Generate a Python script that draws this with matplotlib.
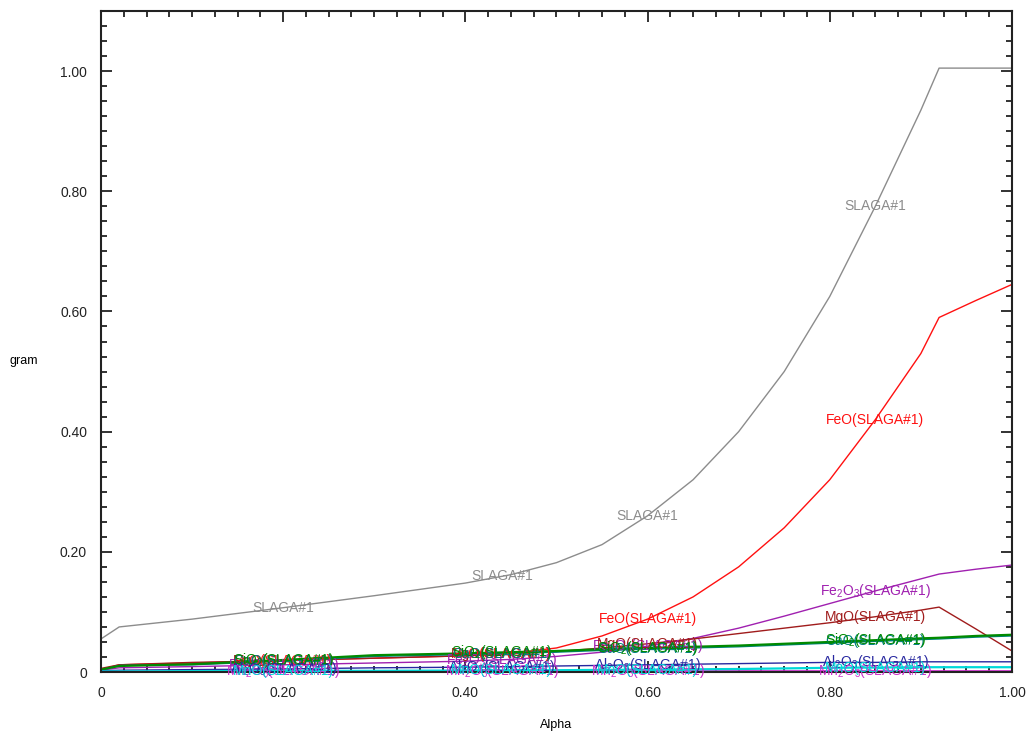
import numpy as np
import matplotlib
matplotlib.use("Agg")
import matplotlib.pyplot as plt
from matplotlib.ticker import MultipleLocator, FuncFormatter

plt.rcParams["font.family"] = ["Liberation Sans", "DejaVu Sans"]
plt.rcParams["mathtext.fontset"] = "custom"
plt.rcParams["mathtext.rm"] = "Liberation Sans"
plt.rcParams["mathtext.it"] = "Liberation Sans:italic"

# Alpha grid shared by all slag components
alpha = [0.0, 0.02, 0.10, 0.20, 0.30, 0.40, 0.45, 0.50, 0.55, 0.60,
         0.65, 0.70, 0.75, 0.80, 0.85, 0.90, 0.92, 0.96, 1.00]

slag_total = [0.055, 0.075, 0.088, 0.107, 0.127, 0.148, 0.162, 0.182, 0.212, 0.260,
              0.320, 0.400, 0.500, 0.625, 0.775, 0.935, 1.005, 1.005, 1.005]
feo = [0.004, 0.012, 0.015, 0.019, 0.023, 0.027, 0.031, 0.040, 0.060, 0.088,
       0.125, 0.175, 0.240, 0.320, 0.420, 0.530, 0.590, 0.618, 0.645]
fe2o3 = [0.003, 0.007, 0.009, 0.012, 0.015, 0.018, 0.021, 0.026, 0.033, 0.043,
         0.056, 0.073, 0.093, 0.114, 0.135, 0.155, 0.163, 0.171, 0.178]
mgo = [0.006, 0.012, 0.016, 0.019, 0.023, 0.027, 0.030, 0.034, 0.040, 0.047,
       0.055, 0.064, 0.073, 0.082, 0.092, 0.103, 0.108, 0.072, 0.035]
sio2 = [0.004, 0.010, 0.013, 0.020, 0.028, 0.031, 0.033, 0.035, 0.038, 0.040,
        0.042, 0.044, 0.047, 0.050, 0.053, 0.056, 0.057, 0.060, 0.062]
cao = [0.003, 0.011, 0.012, 0.018, 0.026, 0.029, 0.031, 0.033, 0.036, 0.038,
       0.040, 0.042, 0.045, 0.048, 0.051, 0.054, 0.055, 0.058, 0.060]
al2o3 = [0.002, 0.003, 0.004, 0.005, 0.007, 0.008, 0.009, 0.010, 0.011, 0.012,
         0.013, 0.014, 0.015, 0.016, 0.016, 0.017, 0.017, 0.017, 0.017]
mno = [0.001, 0.001, 0.0015, 0.002, 0.002, 0.0025, 0.003, 0.003, 0.0035, 0.004,
       0.0045, 0.005, 0.006, 0.007, 0.0075, 0.008, 0.008, 0.008, 0.008]
mn2o3 = [0.0005, 0.0008, 0.001, 0.001, 0.0012, 0.0013, 0.0014, 0.0015, 0.0016, 0.0018,
         0.002, 0.002, 0.002, 0.002, 0.002, 0.002, 0.002, 0.002, 0.002]

series = [
    ("SLAGA#1", slag_total, "#8c8c8c", 1.0),
    ("FeO(SLAGA#1)", feo, "#ff1010", 1.0),
    (r"Fe$_2$O$_3$(SLAGA#1)", fe2o3, "#a020b0", 1.0),
    ("MgO(SLAGA#1)", mgo, "#a01c1c", 1.0),
    ("CaO(SLAGA#1)", cao, "#008080", 1.0),
    (r"SiO$_2$(SLAGA#1)", sio2, "#008a00", 1.6),
    (r"Al$_2$O$_3$(SLAGA#1)", al2o3, "#2828a0", 1.0),
    (r"Mn$_2$O$_3$(SLAGA#1)", mn2o3, "#cc30cc", 1.0),
    ("MnO(SLAGA#1)", mno, "#00d8d8", 1.6),
]

label_x = [0.20, 0.44, 0.60, 0.85]

fig = plt.figure(figsize=(10.28, 7.35), dpi=100)
ax = fig.add_axes([0.0982, 0.0857, 0.8862, 0.8993])

for name, vals, color, lw in series:
    ax.plot(alpha, vals, color=color, lw=lw, zorder=2)
for name, vals, color, lw in series:
    for lx in label_x:
        ly = np.interp(lx, alpha, vals)
        ax.text(lx, ly, name, color=color, fontsize=10, ha="center",
                va="center", zorder=3)

ax.set_xlim(0, 1.0)
ax.set_ylim(0, 1.1)
ax.xaxis.set_major_locator(MultipleLocator(0.2))
ax.xaxis.set_minor_locator(MultipleLocator(0.025))
ax.yaxis.set_major_locator(MultipleLocator(0.2))
ax.yaxis.set_minor_locator(MultipleLocator(0.025))

fmt = FuncFormatter(lambda v, p: "0" if abs(v) < 1e-9 else f"{v:.2f}")
ax.xaxis.set_major_formatter(fmt)
ax.yaxis.set_major_formatter(fmt)

ax.tick_params(which="both", direction="in", top=True, right=True,
               colors="#222222", width=1.3)
ax.tick_params(which="major", length=8, labelsize=10, pad=10)
ax.tick_params(which="minor", length=4.5)
for s in ax.spines.values():
    s.set_linewidth(1.5)
    s.set_color("#222222")

ax.set_xlabel("Alpha", fontsize=9, labelpad=14)
ax.yaxis.set_label_coords(-0.085, 0.47)
ax.set_ylabel("gram", fontsize=9, rotation=0, ha="center", va="center")

fig.savefig("out.png", dpi=100)
